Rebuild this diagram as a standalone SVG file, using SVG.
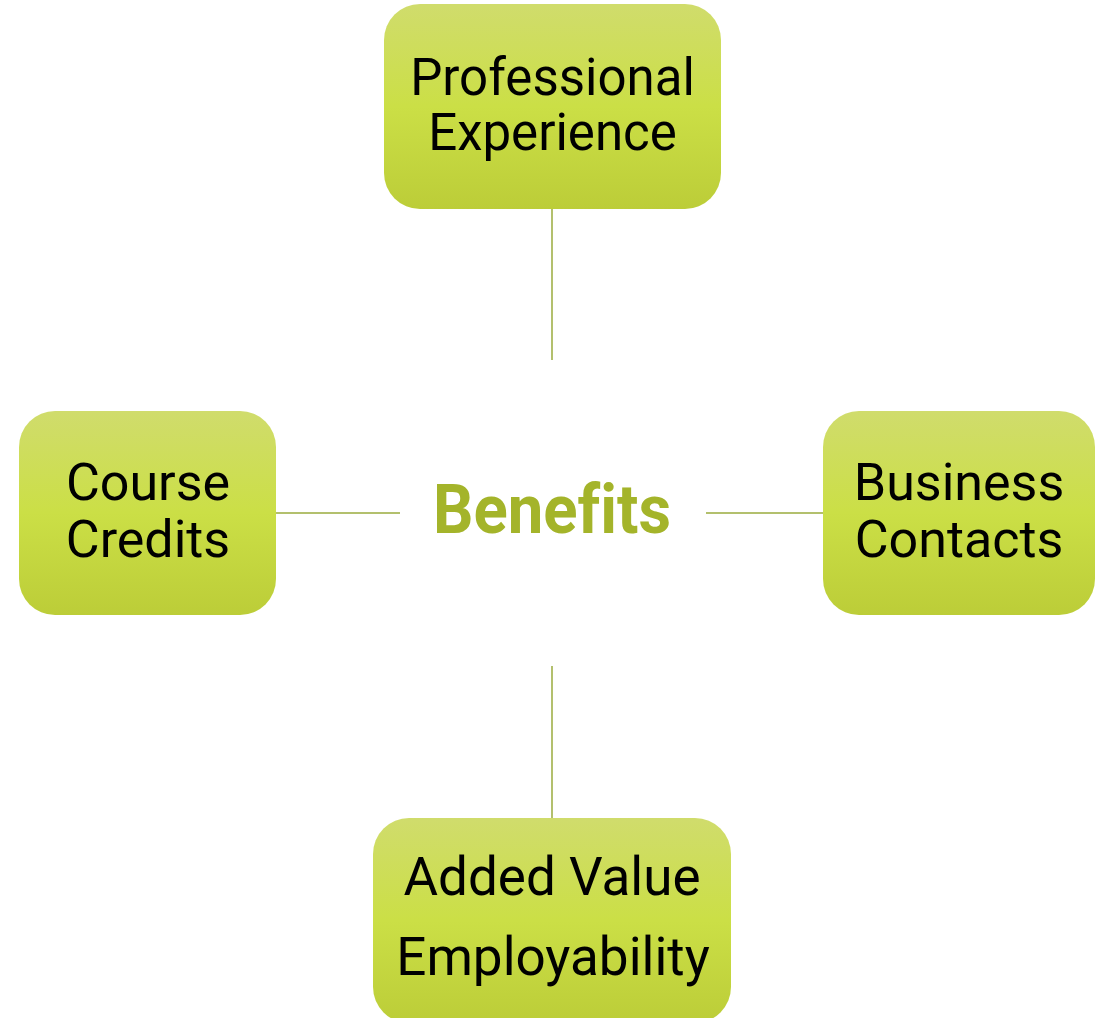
<svg xmlns="http://www.w3.org/2000/svg" width="1099" height="1018" viewBox="0 0 1099 1018">
<defs>
<linearGradient id="g" x1="0" y1="0" x2="0" y2="1">
<stop offset="0" stop-color="#d0dc6c"/>
<stop offset="0.5" stop-color="#cbdf46"/>
<stop offset="1" stop-color="#bccd38"/>
</linearGradient>
<style>
.box{fill:url(#g);}
.t{font-family:Roboto,"Liberation Sans",sans-serif;font-size:51px;fill:#000;text-anchor:middle;}
.m{font-size:52px;}
.b{font-size:53px;}
.c{stroke:#9aab3c;stroke-width:1.5;fill:none;}
.center{font-family:Roboto,"Liberation Sans",sans-serif;font-weight:bold;font-size:68px;fill:#a4b42a;font-variant-ligatures:none;font-feature-settings:"liga" 0, "clig" 0;}
</style>
</defs>
<rect width="1099" height="1018" fill="#fff"/>
<g id="connectors">
<line class="c" x1="552" y1="209" x2="552" y2="360"/>
<line class="c" x1="552" y1="666" x2="552" y2="818"/>
<line class="c" x1="276" y1="513" x2="400" y2="513"/>
<line class="c" x1="706" y1="513" x2="823" y2="513"/>
</g>
<g id="benefits">
<text class="center" x="433" y="533" textLength="238" lengthAdjust="spacingAndGlyphs">Benefits</text>
</g>
<g id="professional-experience">
<rect class="box" x="384" y="4" width="337" height="205" rx="36"/>
<text class="t" x="552.5" y="95">Professional</text>
<text class="t" x="552.5" y="150">Experience</text>
</g>
<g id="course-credits">
<rect class="box" x="19" y="411" width="257" height="204" rx="36"/>
<text class="t m" x="148" y="500">Course</text>
<text class="t m" x="148" y="557">Credits</text>
</g>
<g id="business-contacts">
<rect class="box" x="823" y="411" width="272" height="204" rx="36"/>
<text class="t m" x="959" y="500">Business</text>
<text class="t m" x="959" y="557">Contacts</text>
</g>
<g id="added-value">
<rect class="box" x="373" y="818" width="358" height="205" rx="36"/>
<text class="t b" x="552" y="895">Added Value</text>
<text class="t b" x="553" y="975">Employability</text>
</g>
</svg>
